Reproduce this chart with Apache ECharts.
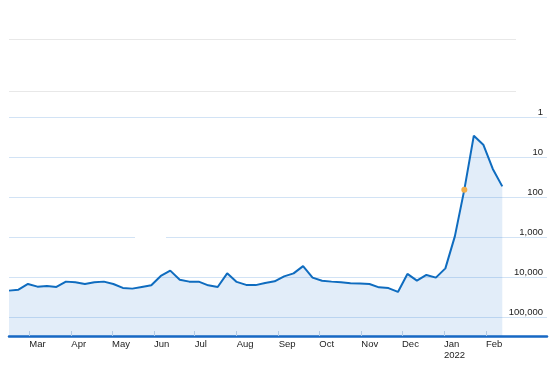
<!DOCTYPE html>
<html>
<head>
<meta charset="utf-8">
<script src="https://cdn.jsdelivr.net/npm/echarts@6/dist/echarts.min.js"></script>
<style>
html,body{margin:0;padding:0;background:#fff;}
#chart{width:555px;height:369px;}
</style>
</head>
<body>
<div id="chart"></div>
<script>
// Weekly dates (week starting)
var weeks = [
  '2021-02-14','2021-02-21','2021-02-28','2021-03-07','2021-03-14','2021-03-21','2021-03-28',
  '2021-04-04','2021-04-11','2021-04-18','2021-04-25','2021-05-02','2021-05-09','2021-05-16',
  '2021-05-23','2021-05-30','2021-06-06','2021-06-13','2021-06-20','2021-06-27','2021-07-04',
  '2021-07-11','2021-07-18','2021-07-25','2021-08-01','2021-08-08','2021-08-15','2021-08-22',
  '2021-08-29','2021-09-05','2021-09-12','2021-09-19','2021-09-26','2021-10-03','2021-10-10',
  '2021-10-17','2021-10-24','2021-10-31','2021-11-07','2021-11-14','2021-11-21','2021-11-28',
  '2021-12-05','2021-12-12','2021-12-19','2021-12-26','2022-01-02','2022-01-09','2022-01-16',
  '2022-01-23','2022-01-30','2022-02-06','2022-02-13'
];
// Rank values (inverted log axis)
var ranks = [
  22000,20800,15000,17500,16800,17800,13100,
  13600,15000,13600,13100,15000,18800,19600,
  17800,16200,9440,6960,11700,13100,13100,
  16200,17800,8130,13300,15800,16000,14100,
  12900,9660,8130,5370,10400,12400,13100,
  13600,14300,14500,15000,18200,19000,23700,
  8410,12400,8910,10400,6100,966,65.7,
  2.93,4.93,19.9,54.3
];
var highlightIndex = 48;
// Month tick positions and labels
var monthTicks = [
  '2021-03-01','2021-04-01','2021-05-01','2021-06-01','2021-07-01','2021-08-01',
  '2021-09-01','2021-10-01','2021-11-01','2021-12-01','2022-01-01','2022-02-01'
];
var monthNames = ['Jan','Feb','Mar','Apr','May','Jun','Jul','Aug','Sep','Oct','Nov','Dec'];
var yTickValues = [1, 10, 100, 1000, 10000, 100000];

function ts(s){ var p = s.split('-'); return Date.UTC(+p[0], +p[1]-1, +p[2]); }

var chart = echarts.init(document.getElementById('chart'), null, {renderer:'canvas'});
var seriesData = weeks.map(function(d, i){ return [ts(d), ranks[i]]; });
var tickTs = monthTicks.map(ts);

var option = {
  animation: false,
  backgroundColor: '#ffffff',
  textStyle: { fontFamily: 'Liberation Sans, Arial, sans-serif' },
  grid: { left: 9, right: 8, top: 117, bottom: 33, outerBoundsMode: 'none' },
  xAxis: {
    type: 'value',
    min: ts('2021-02-14'),
    max: ts('2022-03-18'),
    axisLine: { show: true, lineStyle: { color: '#1768c4', width: 2.5 } },
    axisTick: {
      show: true, inside: true, length: 5,
      customValues: tickTs,
      lineStyle: { color: '#c9d8e8', width: 1 }
    },
    axisLabel: {
      customValues: tickTs,
      align: 'left',
      margin: 3,
      fontSize: 9.5,
      lineHeight: 11,
      color: '#222',
      hideOverlap: false,
      formatter: function(v){
        var d = new Date(v);
        var m = monthNames[d.getUTCMonth()];
        if (d.getUTCMonth() === 0) return m + '\n' + d.getUTCFullYear();
        return m;
      }
    },
    splitLine: { show: false }
  },
  yAxis: {
    type: 'log',
    logBase: 10,
    inverse: true,
    min: 1,
    max: 300000,
    position: 'right',
    axisLine: { show: false },
    axisTick: { show: false },
    axisLabel: {
      inside: true,
      margin: 4,
      fontSize: 9.5,
      color: '#222',
      verticalAlign: 'bottom',
      padding: [0, 0, 0, 0],
      formatter: function(v){
        var r = Math.round(v);
        for (var i = 0; i < yTickValues.length; i++) {
          if (Math.abs(r - yTickValues[i]) < 1e-6 * yTickValues[i] + 0.5) return yTickValues[i].toLocaleString('en-US');
        }
        return '';
      }
    },
    splitLine: { show: true, lineStyle: { color: '#d2e3f5', width: 1 } }
  },
  graphic: [
    { type: 'line', z: 1, shape: { x1: 9, y1: 39.5, x2: 516, y2: 39.5 }, style: { stroke: '#e8e8e8', lineWidth: 1 } },
    { type: 'line', z: 1, shape: { x1: 9, y1: 91.5, x2: 516, y2: 91.5 }, style: { stroke: '#e8e8e8', lineWidth: 1 } },
    { type: 'rect', z: 1, shape: { x: 135, y: 234, width: 31, height: 5 }, style: { fill: '#ffffff' } }
  ],
  series: [{
    type: 'line',
    data: seriesData,
    showSymbol: false,
    symbol: 'none',
    z: 3,
    lineStyle: { color: '#0f6cbf', width: 2 },
    areaStyle: { origin: 'end', color: 'rgba(10,100,200,0.17)' },
    markPoint: {
      symbol: 'circle',
      symbolSize: 6,
      label: { show: false },
      itemStyle: { color: '#f2ae4a' },
      data: [{ coord: seriesData[highlightIndex] }]
    }
  }]
};
chart.setOption(option);
</script>
</body>
</html>
